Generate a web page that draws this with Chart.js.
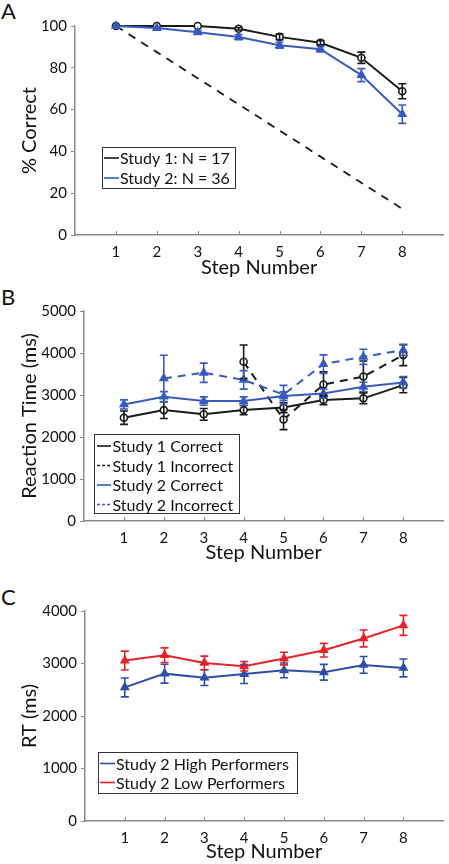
<!DOCTYPE html>
<html>
<head>
<meta charset="utf-8">
<script src="https://cdn.jsdelivr.net/npm/chart.js@4.4.1/dist/chart.umd.min.js"></script>
<style>
  body { margin: 0; background: #fff; width: 449px; height: 864px; position: relative; overflow: hidden; font-family: Lato, sans-serif; }
  canvas { position: absolute; left: 0; }
  .letter { position: absolute; left: 1px; font-size: 22px; line-height: 1; color: #111; }
</style>
</head>
<body>
<div class="letter" style="top:0px">A</div>
<div class="letter" style="top:286px">B</div>
<div class="letter" style="top:586px">C</div>
<canvas id="chartA" width="449" height="282" style="top:0px"></canvas>
<canvas id="chartB" width="449" height="285" style="top:285px"></canvas>
<canvas id="chartC" width="449" height="279" style="top:585px"></canvas>
<script>
// x categories
const steps = [1, 2, 3, 4, 5, 6, 7, 8];

// A: % correct
const accStudy1 = [100, 100, 100, 98.7, 94.8, 92, 84.8, 68.8];
const accStudy1Err = [0, 0, 0, 0.6, 1.4, 1, 2.7, 3.6];
const accStudy2 = [100, 99, 97, 94.7, 90.8, 88.9, 76.5, 57.8];
const accStudy2Err = [0, 0.5, 0.8, 1.2, 1.4, 1.3, 3.1, 4.4];
const chanceLine = [100, 87.5, 75, 62.5, 50, 37.5, 25, 12.5];

// B: reaction time (ms)
const rtS1Correct = [2460, 2640, 2540, 2640, 2700, 2880, 2920, 3235];
const rtS1CorrectErr = [160, 200, 140, 110, 120, 110, 130, 180];
const rtS1Incorrect = [null, null, null, 3790, 2415, 3250, 3440, 3950];
const rtS1IncorrectErr = [0, 0, 0, 400, 240, 300, 370, 250];
const rtS2Correct = [2775, 2960, 2855, 2855, 2975, 3035, 3195, 3300];
const rtS2CorrectErr = [110, 120, 100, 100, 100, 110, 110, 140];
const rtS2Incorrect = [null, 3395, 3530, 3360, 3010, 3735, 3910, 4070];
const rtS2IncorrectErr = [0, 550, 230, 220, 220, 220, 180, 130];

// C: high vs low performers
const rtHigh = [2545, 2807, 2730, 2800, 2870, 2833, 2973, 2915];
const rtHighErr = [180, 180, 150, 180, 140, 150, 160, 170];
const rtLow = [3056, 3158, 3011, 2947, 3094, 3254, 3477, 3726];
const rtLowErr = [180, 140, 130, 90, 120, 130, 160, 190];

const BLACK = '#1a1a1a';
const BLUE = '#3a5bbd';
const DARKBLUE = '#2f4ea6';
const RED = '#e5232b';
const AXIS = '#8a8a8a';

Chart.defaults.font.family = 'Lato, sans-serif';
Chart.defaults.color = '#111';

function pts(arr) {
  return steps.map((s, i) => ({ x: s, y: arr[i] }));
}

// error bars drawn through the y scale
const errorBars = {
  id: 'errorBars',
  afterDatasetsDraw(chart) {
    const ctx = chart.ctx, y = chart.scales.y;
    chart.data.datasets.forEach((ds, i) => {
      if (!ds.errors) return;
      const meta = chart.getDatasetMeta(i);
      ctx.save();
      ctx.strokeStyle = ds.borderColor;
      ctx.lineWidth = 1.6;
      meta.data.forEach((pt, j) => {
        const v = ds.data[j].y, e = ds.errors[j];
        if (v == null || !e) return;
        const top = y.getPixelForValue(v + e), bot = y.getPixelForValue(v - e);
        ctx.beginPath();
        ctx.moveTo(pt.x, top); ctx.lineTo(pt.x, bot);
        ctx.moveTo(pt.x - 4, top); ctx.lineTo(pt.x + 4, top);
        ctx.moveTo(pt.x - 4, bot); ctx.lineTo(pt.x + 4, bot);
        ctx.stroke();
      });
      ctx.restore();
    });
  }
};

// x ticks point into the plot, like the original
const innerTicks = {
  id: 'innerTicks',
  afterDraw(chart) {
    const ctx = chart.ctx, x = chart.scales.x, b = chart.chartArea.bottom;
    ctx.save();
    ctx.strokeStyle = AXIS;
    ctx.lineWidth = 1;
    steps.forEach(s => {
      const px = Math.round(x.getPixelForValue(s)) + 0.5;
      ctx.beginPath(); ctx.moveTo(px, b); ctx.lineTo(px, b - 4); ctx.stroke();
    });
    ctx.restore();
  }
};

// boxed legend inside the plot
const boxLegend = {
  id: 'boxLegend',
  afterDraw(chart, args, opts) {
    if (!opts.rows) return;
    const ctx = chart.ctx;
    const [x1, y1, x2, y2] = opts.box;
    ctx.save();
    ctx.fillStyle = '#fff';
    ctx.fillRect(x1, y1, x2 - x1, y2 - y1);
    ctx.strokeStyle = '#333';
    ctx.lineWidth = 1;
    ctx.strokeRect(x1 + 0.5, y1 + 0.5, x2 - x1, y2 - y1);
    ctx.font = '16px Lato, sans-serif';
    ctx.textBaseline = 'middle';
    opts.rows.forEach((r, i) => {
      const ry = opts.rowY[i];
      ctx.strokeStyle = r.color;
      ctx.lineWidth = 1.6;
      ctx.setLineDash(r.dash || []);
      ctx.beginPath(); ctx.moveTo(opts.lineX[0], ry); ctx.lineTo(opts.lineX[1], ry); ctx.stroke();
      ctx.setLineDash([]);
      ctx.fillStyle = '#111';
      ctx.fillText(r.label, opts.textX, ry + 1);
    });
    ctx.restore();
  }
};

function scales(p) {
  return {
    x: {
      type: 'linear', min: 0, max: 9,
      afterBuildTicks: s => { s.ticks = steps.map(v => ({ value: v })); },
      afterFit: s => { s.height = p.xHeight; },
      border: { color: AXIS, width: 1.5 },
      grid: { display: true, drawOnChartArea: false, drawTicks: false },
      ticks: { font: { size: 15 }, padding: 8, color: '#111', callback: v => String(v) },
      title: { display: true, text: 'Step Number', font: { size: 20 }, color: '#111', padding: { top: 0, bottom: p.xTitlePad } }
    },
    y: {
      min: p.yMin, max: p.yMax,
      afterFit: s => { s.width = p.axisLeft; },
      border: { color: AXIS, width: 1.5 },
      grid: { display: true, drawOnChartArea: false, tickLength: 4, color: AXIS },
      ticks: { stepSize: p.yStep, font: { size: 15 }, padding: 4, color: '#111', callback: v => String(v) },
      title: { display: true, text: p.yTitle, font: { size: 20 }, color: '#111', padding: { top: 18, bottom: 0 } }
    }
  };
}

function line(label, arr, err, color, style, dash, order) {
  return {
    label: label,
    data: pts(arr),
    errors: err,
    borderColor: color,
    backgroundColor: style === 'circle' ? '#fff' : color,
    borderWidth: 2,
    borderDash: dash || [],
    pointStyle: style,
    pointRadius: style === 'circle' ? 3.5 : 4.2,
    pointBorderWidth: 1.6,
    pointBorderColor: color,
    pointBackgroundColor: style === 'circle' ? '#fff' : color,
    clip: false,
    order: order,
    tension: 0
  };
}

function makeChart(id, datasets, p, legend) {
  return new Chart(document.getElementById(id), {
    type: 'line',
    data: { datasets: datasets },
    options: {
      responsive: false,
      animation: false,
      layout: { padding: { top: 26, right: p.padRight, left: 0, bottom: 0 } },
      plugins: { legend: { display: false }, tooltip: { enabled: false }, boxLegend: legend },
      scales: scales(p)
    },
    plugins: [errorBars, innerTicks, boxLegend]
  });
}

// Panel A
makeChart('chartA', [
  { label: 'chance', data: pts(chanceLine), borderColor: BLACK, borderWidth: 1.8, borderDash: [8, 7], pointRadius: 0, clip: false, order: 3 },
  line('Study 1: N = 17', accStudy1, accStudy1Err, BLACK, 'circle', null, 2),
  line('Study 2: N = 36', accStudy2, accStudy2Err, BLUE, 'triangle', null, 1)
], { yMin: 0, yMax: 100, yStep: 20, yTitle: '% Correct', axisLeft: 75, xHeight: 47, padRight: 4, xTitlePad: 2 },
{
  box: [102, 147, 235, 188], rowY: [158, 178], lineX: [104, 119], textX: 120,
  rows: [{ label: 'Study 1: N = 17', color: BLACK }, { label: 'Study 2: N = 36', color: BLUE }]
});

// Panel B
makeChart('chartB', [
  line('Study 1 Correct', rtS1Correct, rtS1CorrectErr, BLACK, 'circle', null, 4),
  line('Study 1 Incorrect', rtS1Incorrect, rtS1IncorrectErr, BLACK, 'circle', [8, 6], 3),
  line('Study 2 Correct', rtS2Correct, rtS2CorrectErr, BLUE, 'triangle', null, 2),
  line('Study 2 Incorrect', rtS2Incorrect, rtS2IncorrectErr, BLUE, 'triangle', [8, 6], 1)
], { yMin: 0, yMax: 5000, yStep: 1000, yTitle: 'Reaction Time (ms)', axisLeft: 84, xHeight: 49, padRight: 4, xTitlePad: 5 },
{
  box: [94, 149, 239, 228], rowY: [161, 180.5, 200, 219.5], lineX: [97, 111], textX: 112.5,
  rows: [
    { label: 'Study 1 Correct', color: BLACK },
    { label: 'Study 1 Incorrect', color: BLACK, dash: [3, 2] },
    { label: 'Study 2 Correct', color: BLUE },
    { label: 'Study 2 Incorrect', color: BLUE, dash: [3, 2] }
  ]
});

// Panel C
makeChart('chartC', [
  line('Study 2 High Performers', rtHigh, rtHighErr, DARKBLUE, 'triangle', null, 2),
  line('Study 2 Low Performers', rtLow, rtLowErr, RED, 'triangle', null, 1)
], { yMin: 0, yMax: 4000, yStep: 1000, yTitle: 'RT (ms)', axisLeft: 85, xHeight: 43, padRight: 2, xTitlePad: 0 },
{
  box: [98, 167, 297, 208], rowY: [178.5, 197.5], lineX: [100, 115], textX: 116,
  rows: [{ label: 'Study 2 High Performers', color: DARKBLUE }, { label: 'Study 2 Low Performers', color: RED }]
});
</script>
</body>
</html>
